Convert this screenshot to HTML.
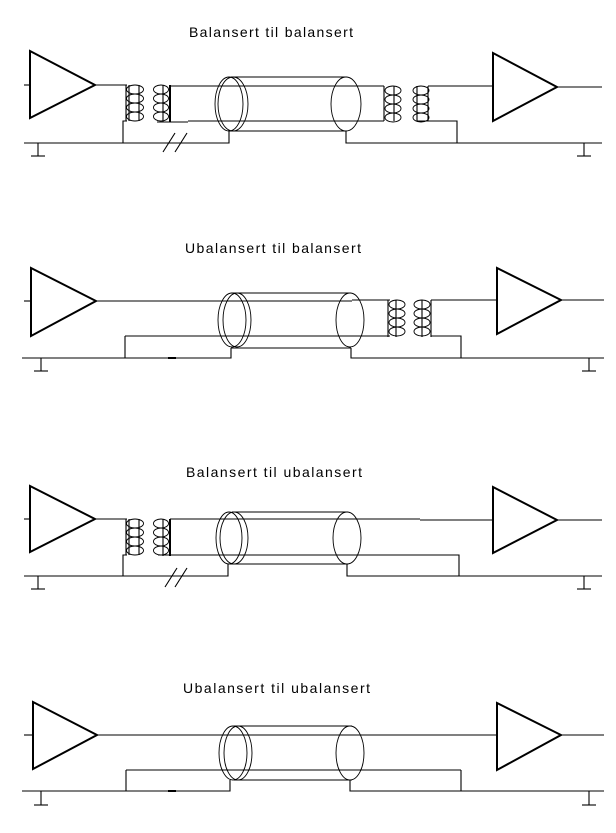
<!DOCTYPE html>
<html><head><meta charset="utf-8"><style>html,body{margin:0;padding:0;background:#fff}svg{display:block}</style></head>
<body>
<svg width="616" height="833" viewBox="0 0 616 833" xmlns="http://www.w3.org/2000/svg" font-family="Liberation Sans, sans-serif">
<g fill="none" stroke="#000" stroke-width="1.1">

<!-- ============ Diagram 1 ============ -->
<polygon points="30,51 30,118 95,85" stroke-width="2"/>
<line x1="24" y1="85" x2="30" y2="85"/>
<line x1="95" y1="85" x2="127" y2="85"/>
<line x1="126" y1="85" x2="126" y2="121"/><line x1="129" y1="85" x2="129" y2="121"/><line x1="139" y1="85" x2="139" y2="121"/>
<g stroke-width="0.9"><ellipse cx="135" cy="89.5" rx="8.5" ry="4.5"/><ellipse cx="135" cy="98.5" rx="8.5" ry="4.5"/><ellipse cx="135" cy="107.5" rx="8.5" ry="4.5"/><ellipse cx="135" cy="116.5" rx="8.5" ry="4.5"/></g>
<line x1="163" y1="85" x2="163" y2="122"/><line x1="170" y1="85" x2="170" y2="122" stroke-width="2"/>
<g stroke-width="0.9"><ellipse cx="161" cy="89.5" rx="7.5" ry="4.5"/><ellipse cx="161" cy="98.5" rx="7.5" ry="4.5"/><ellipse cx="161" cy="107.5" rx="7.5" ry="4.5"/><ellipse cx="161" cy="116.5" rx="7.5" ry="4.5"/></g>
<line x1="157" y1="122" x2="188" y2="122"/>
<line x1="188" y1="121" x2="384" y2="121"/>
<line x1="170" y1="86" x2="384" y2="86"/>
<line x1="231" y1="77" x2="347" y2="77"/>
<line x1="229" y1="131" x2="346" y2="131"/>
<g stroke-width="0.9"><ellipse cx="229" cy="104" rx="14" ry="27"/><ellipse cx="233" cy="104" rx="15" ry="27"/>
<ellipse cx="346" cy="104" rx="15" ry="27"/></g>
<polyline points="24,143 229,143 229,131"/>
<polyline points="123,143 123,121 127,121"/>
<line x1="38" y1="143" x2="38" y2="156"/><line x1="31" y1="156" x2="45" y2="156"/>
<line x1="163" y1="152" x2="175" y2="133"/><line x1="175" y1="152" x2="187" y2="133"/>
<polyline points="346,131 346,143 602,143"/>
<line x1="384" y1="86" x2="384" y2="121"/><line x1="394" y1="86" x2="394" y2="121"/>
<g stroke-width="0.9"><ellipse cx="393" cy="90.5" rx="8" ry="4.5"/><ellipse cx="393" cy="99.5" rx="8" ry="4.5"/><ellipse cx="393" cy="108.5" rx="8" ry="4.5"/><ellipse cx="393" cy="117.5" rx="8" ry="4.5"/>
<ellipse cx="421" cy="90.5" rx="8" ry="4.5"/><ellipse cx="421" cy="99.5" rx="8" ry="4.5"/><ellipse cx="421" cy="108.5" rx="8" ry="4.5"/><ellipse cx="421" cy="117.5" rx="8" ry="4.5"/></g>
<line x1="417" y1="86" x2="417" y2="121"/><line x1="428" y1="86" x2="428" y2="121"/>
<line x1="428" y1="86" x2="493" y2="86"/>
<polyline points="417,121 457,121 457,143"/>
<polygon points="493,53 493,121 557,87" stroke-width="2"/>
<line x1="557" y1="87" x2="602" y2="87"/>
<line x1="584" y1="143" x2="584" y2="156"/><line x1="577" y1="156" x2="591" y2="156"/>

<!-- ============ Diagram 2 ============ -->
<polygon points="31,268 31,336 96,301" stroke-width="2"/>
<line x1="24" y1="301" x2="31" y2="301"/>
<line x1="96" y1="301" x2="352" y2="301"/>
<line x1="352" y1="300" x2="390" y2="300"/>
<line x1="231" y1="293" x2="351" y2="293"/>
<line x1="231" y1="348" x2="351" y2="348"/>
<g stroke-width="0.9"><ellipse cx="232" cy="320" rx="14" ry="27"/><ellipse cx="237" cy="320" rx="14" ry="27"/>
<ellipse cx="350" cy="320" rx="14" ry="27"/></g>
<line x1="125" y1="336" x2="390" y2="336"/>
<polyline points="125,358 125,336"/>
<polyline points="22,358 231,358 231,348"/>
<line x1="168" y1="358" x2="176" y2="358" stroke-width="2"/>
<polyline points="351,348 351,358 604,358"/>
<line x1="41" y1="358" x2="41" y2="371"/><line x1="34" y1="371" x2="48" y2="371"/>
<line x1="589" y1="358" x2="589" y2="371"/><line x1="582" y1="371" x2="596" y2="371"/>
<line x1="388" y1="300" x2="388" y2="337"/><line x1="396" y1="300" x2="396" y2="337"/>
<g stroke-width="0.9"><ellipse cx="397" cy="304.5" rx="8" ry="4.5"/><ellipse cx="397" cy="313.5" rx="8" ry="4.5"/><ellipse cx="397" cy="322.5" rx="8" ry="4.5"/><ellipse cx="397" cy="331.5" rx="8" ry="4.5"/>
<ellipse cx="422" cy="304.5" rx="8" ry="4.5"/><ellipse cx="422" cy="313.5" rx="8" ry="4.5"/><ellipse cx="422" cy="322.5" rx="8" ry="4.5"/><ellipse cx="422" cy="331.5" rx="8" ry="4.5"/></g>
<line x1="422" y1="300" x2="422" y2="337"/><line x1="431" y1="300" x2="431" y2="337"/>
<line x1="431" y1="300" x2="497" y2="300"/>
<polyline points="431,336 461,336 461,358"/>
<polygon points="497,268 497,334 561,300" stroke-width="2"/>
<line x1="561" y1="300" x2="604" y2="300"/>

<!-- ============ Diagram 3 ============ -->
<polygon points="30,486 30,552 95,519" stroke-width="2"/>
<line x1="24" y1="519" x2="30" y2="519"/>
<line x1="95" y1="519" x2="127" y2="519"/>
<line x1="126" y1="519" x2="126" y2="555"/><line x1="129" y1="519" x2="129" y2="555"/><line x1="139" y1="519" x2="139" y2="555"/>
<g stroke-width="0.9"><ellipse cx="135" cy="523.5" rx="8.5" ry="4.5"/><ellipse cx="135" cy="532.5" rx="8.5" ry="4.5"/><ellipse cx="135" cy="541.5" rx="8.5" ry="4.5"/><ellipse cx="135" cy="550.5" rx="8.5" ry="4.5"/>
<ellipse cx="161" cy="523.5" rx="7.5" ry="4.5"/><ellipse cx="161" cy="532.5" rx="7.5" ry="4.5"/><ellipse cx="161" cy="541.5" rx="7.5" ry="4.5"/><ellipse cx="161" cy="550.5" rx="7.5" ry="4.5"/></g>
<line x1="163" y1="519" x2="163" y2="556"/><line x1="170" y1="519" x2="170" y2="556" stroke-width="2"/>
<line x1="170" y1="519" x2="420" y2="519"/>
<line x1="420" y1="520" x2="493" y2="520"/>
<polyline points="158,555 459,555 459,576"/>
<line x1="232" y1="512" x2="348" y2="512"/>
<line x1="230" y1="564" x2="348" y2="564"/>
<g stroke-width="0.9"><ellipse cx="229" cy="538" rx="13" ry="26"/><ellipse cx="234" cy="538" rx="14" ry="26"/>
<ellipse cx="347" cy="538" rx="14" ry="26"/></g>
<polyline points="24,576 228,576 228,564"/>
<polyline points="123,576 123,555 127,555"/>
<line x1="165" y1="587" x2="177" y2="568"/><line x1="175" y1="587" x2="187" y2="568"/>
<polyline points="347,564 347,576 602,576"/>
<line x1="38" y1="576" x2="38" y2="589"/><line x1="31" y1="589" x2="45" y2="589"/>
<line x1="584" y1="576" x2="584" y2="589"/><line x1="577" y1="589" x2="591" y2="589"/>
<polygon points="493,487 493,553 557,520" stroke-width="2"/>
<line x1="557" y1="520" x2="602" y2="520"/>

<!-- ============ Diagram 4 ============ -->
<polygon points="33,702 33,769 97,735" stroke-width="2"/>
<line x1="24" y1="735" x2="33" y2="735"/>
<line x1="97" y1="735" x2="497" y2="735"/>
<line x1="234" y1="726" x2="352" y2="726"/>
<line x1="234" y1="780" x2="352" y2="780"/>
<g stroke-width="0.9"><ellipse cx="233" cy="753" rx="14" ry="27"/><ellipse cx="238" cy="753" rx="14" ry="27"/>
<ellipse cx="350" cy="753" rx="14" ry="27"/></g>
<line x1="126" y1="770" x2="461" y2="770"/>
<line x1="126" y1="770" x2="126" y2="791"/>
<line x1="461" y1="770" x2="461" y2="791"/>
<polyline points="22,791 230,791 230,780"/>
<line x1="168" y1="791" x2="176" y2="791" stroke-width="2"/>
<polyline points="350,780 350,791 604,791"/>
<line x1="41" y1="791" x2="41" y2="805"/><line x1="34" y1="805" x2="48" y2="805"/>
<line x1="589" y1="791" x2="589" y2="805"/><line x1="582" y1="805" x2="596" y2="805"/>
<polygon points="497,703 497,770 561,735" stroke-width="2"/>
<line x1="561" y1="735" x2="604" y2="735"/>
</g>

<g fill="#000" font-size="14" font-family="Liberation Sans, sans-serif">
<text x="189" y="37" textLength="164" lengthAdjust="spacing">Balansert  til  balansert</text>
<text x="185" y="253" textLength="176" lengthAdjust="spacing">Ubalansert  til  balansert</text>
<text x="186" y="477" textLength="176" lengthAdjust="spacing">Balansert  til  ubalansert</text>
<text x="183" y="693" textLength="187" lengthAdjust="spacing">Ubalansert  til  ubalansert</text>
</g>
</svg>
</body></html>
